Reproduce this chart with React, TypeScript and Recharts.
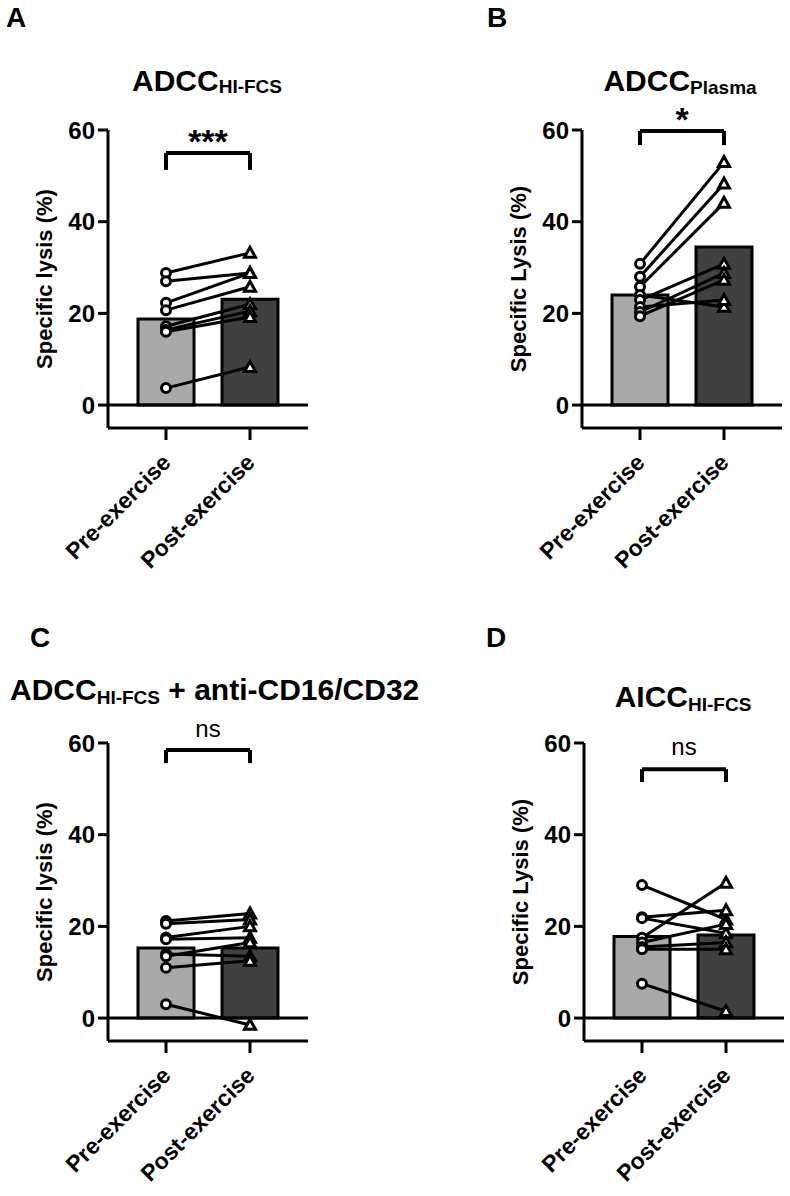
import React from 'react';
import { ComposedChart, Bar, Cell, Line, XAxis, YAxis, ReferenceLine } from 'recharts';

const groups = ['Pre-exercise', 'Post-exercise'];
const yTicks = [0, 20, 40, 60];
const subjects = [0, 1, 2, 3, 4, 5, 6, 7];

// A: ADCC HI-FCS
const hiFcsMean = [18.8, 23.1];
const hiFcsPre = [28.8, 27.0, 22.3, 20.7, 17.2, 16.4, 16.0, 3.7];
const hiFcsPost = [33.2, 28.8, 28.8, 25.8, 22.0, 20.5, 19.2, 8.3];

// B: ADCC plasma
const plasmaMean = [24.0, 34.5];
const plasmaPre = [30.8, 28.0, 25.8, 24.0, 22.9, 21.4, 20.3, 19.4];
const plasmaPost = [53.0, 48.3, 44.1, 21.4, 30.8, 22.9, 28.8, 27.3];

// C: ADCC HI-FCS + anti-CD16/CD32
const blockMean = [15.3, 15.3];
const blockPre = [21.2, 20.6, 17.6, 17.2, 14.0, 13.5, 11.0, 3.0];
const blockPost = [22.8, 21.5, 20.0, 17.5, 13.5, 16.5, 12.5, -1.5];

// D: AICC HI-FCS
const aiccMean = [17.8, 18.1];
const aiccPre = [29.0, 22.0, 21.8, 17.5, 16.5, 15.5, 15.0, 7.5];
const aiccPost = [21.5, 23.5, 18.5, 29.5, 20.5, 16.5, 15.0, 1.5];

const FONT = '"Liberation Sans", Arial, sans-serif';

const buildRows = (means: number[], pre: number[], post: number[]) =>
  groups.map((g, gi) => {
    const row: Record<string, string | number> = { group: g, mean: means[gi] };
    (gi === 0 ? pre : post).forEach((v, i) => {
      row[`s${i}`] = v;
    });
    return row;
  });

const PairDot = (props: any) => {
  const { cx, cy, index } = props;
  if (cx == null || cy == null) return <g />;
  if (index === 0) {
    return <circle cx={cx} cy={cy} r={4.5} fill="#fff" stroke="#000" strokeWidth={3} />;
  }
  const s = 5.5;
  return (
    <polygon
      points={`${cx},${cy - s} ${cx + s},${cy + s * 0.8} ${cx - s},${cy + s * 0.8}`}
      fill="#fff"
      stroke="#000"
      strokeWidth={3}
    />
  );
};

const RotTick = (props: any) => {
  const { x, y, payload } = props;
  const tx = x + 6;
  const ty = y + 22;
  return (
    <text
      x={tx}
      y={ty}
      transform={`rotate(-45, ${tx}, ${ty})`}
      textAnchor="end"
      fontSize={23}
      fontWeight="bold"
      fontFamily={FONT}
      fill="#000"
    >
      {payload.value}
    </text>
  );
};

type PanelProps = {
  left: number;
  top: number;
  yLabel: string;
  means: number[];
  pre: number[];
  post: number[];
  sig: string;
  sigBold: boolean;
  sigSize: number;
  sigOffset: number;
  bracketY: number;
  legY: number;
};

const Panel = ({ left, top, yLabel, means, pre, post, sig, sigBold, sigSize, sigOffset, bracketY, legY }: PanelProps) => {
  const rows = buildRows(means, pre, post);
  return (
    <div style={{ position: 'absolute', left, top }}>
      <ComposedChart width={320} height={480} data={rows} margin={{ top: 30, right: 12, bottom: 0, left: 0 }}>
        <XAxis
          dataKey="group"
          type="category"
          padding={{ left: 16, right: 16 }}
          height={152}
          axisLine={{ stroke: '#000', strokeWidth: 3 }}
          tickLine={{ stroke: '#000', strokeWidth: 3 }}
          tickSize={12}
          tick={<RotTick />}
          interval={0}
        />
        <YAxis
          type="number"
          domain={[-5, 60]}
          ticks={yTicks}
          width={108}
          axisLine={{ stroke: '#000', strokeWidth: 3 }}
          tickLine={{ stroke: '#000', strokeWidth: 3 }}
          tickSize={10}
          tickMargin={3}
          tick={{ fill: '#000', fontSize: 24, fontWeight: 'bold', fontFamily: FONT }}
          label={{
            value: yLabel,
            angle: -90,
            position: 'insideLeft',
            offset: 44,
            style: { textAnchor: 'middle' },
            fontSize: 22,
            fontWeight: 'bold',
            fontFamily: FONT,
            fill: '#000',
          }}
        />
        <ReferenceLine y={0} stroke="#000" strokeWidth={3} />
        <Bar dataKey="mean" barSize={56} stroke="#000" strokeWidth={3} isAnimationActive={false}>
          <Cell fill="#a9a9a9" />
          <Cell fill="#404040" />
        </Bar>
        {subjects.map((i) => (
          <Line
            key={i}
            dataKey={`s${i}`}
            stroke="#000"
            strokeWidth={3}
            dot={<PairDot />}
            activeDot={false}
            isAnimationActive={false}
          />
        ))}
        <ReferenceLine
          segment={[
            { x: groups[0], y: bracketY },
            { x: groups[1], y: bracketY },
          ]}
          stroke="#000"
          strokeWidth={4}
          label={{
            value: sig,
            position: 'top',
            offset: sigOffset,
            fontSize: sigSize,
            fontWeight: sigBold ? 'bold' : 'normal',
            fontFamily: FONT,
            fill: '#000',
          }}
        />
        <ReferenceLine
          segment={[
            { x: groups[0], y: bracketY },
            { x: groups[0], y: legY },
          ]}
          stroke="#000"
          strokeWidth={4}
        />
        <ReferenceLine
          segment={[
            { x: groups[1], y: bracketY },
            { x: groups[1], y: legY },
          ]}
          stroke="#000"
          strokeWidth={4}
        />
      </ComposedChart>
    </div>
  );
};

const Letter = ({ left, top, text }: { left: number; top: number; text: string }) => (
  <div style={{ position: 'absolute', left, top, fontSize: 28, fontWeight: 'bold', lineHeight: 1 }}>{text}</div>
);

type TitleProps = { left: number; width: number; align: 'left' | 'center'; top: number; main: string; sub: string; tail?: string; shift: number };

const Title = ({ left, width, align, top, main, sub, tail, shift }: TitleProps) => (
  <div
    style={{
      position: 'absolute',
      left,
      width,
      top,
      textAlign: align,
      fontSize: 30,
      fontWeight: 'bold',
      lineHeight: 1,
      whiteSpace: 'nowrap',
    }}
  >
    {main}
    <span style={{ fontSize: 19, position: 'relative', top: shift }}>{sub}</span>
    {tail}
  </div>
);

export default function App() {
  return (
    <div
      style={{
        position: 'absolute',
        left: 0,
        top: 0,
        width: 790,
        height: 1196,
        background: '#fff',
        fontFamily: FONT,
        color: '#000',
      }}
    >
      <Letter left={6} top={4} text="A" />
      <Letter left={487} top={4} text="B" />
      <Letter left={30} top={624} text="C" />
      <Letter left={486} top={624} text="D" />

      <Title left={57} width={300} align="center" top={66} main="ADCC" sub="HI-FCS" shift={2} />
      <Title left={530} width={300} align="center" top={66} main="ADCC" sub="Plasma" shift={3} />
      <Title left={10} width={460} align="left" top={675} main="ADCC" sub="HI-FCS" tail=" + anti-CD16/CD32" shift={4} />
      <Title left={533} width={300} align="center" top={682} main="AICC" sub="HI-FCS" shift={4} />

      <Panel
        left={0}
        top={100}
        yLabel="Specific lysis (%)"
        means={hiFcsMean}
        pre={hiFcsPre}
        post={hiFcsPost}
        sig="***"
        sigBold
        sigSize={34}
        sigOffset={0}
        bracketY={55}
        legY={51.3}
      />
      <Panel
        left={474}
        top={100}
        yLabel="Specific Lysis (%)"
        means={plasmaMean}
        pre={plasmaPre}
        post={plasmaPost}
        sig="*"
        sigBold
        sigSize={34}
        sigOffset={0}
        bracketY={59.8}
        legY={56.7}
      />
      <Panel
        left={0}
        top={713}
        yLabel="Specific lysis (%)"
        means={blockMean}
        pre={blockPre}
        post={blockPost}
        sig="ns"
        sigBold={false}
        sigSize={24}
        sigOffset={13}
        bracketY={58.5}
        legY={55.6}
      />
      <Panel
        left={476}
        top={713}
        yLabel="Specific Lysis (%)"
        means={aiccMean}
        pre={aiccPre}
        post={aiccPost}
        sig="ns"
        sigBold={false}
        sigSize={24}
        sigOffset={14}
        bracketY={54.3}
        legY={51.5}
      />
    </div>
  );
}
